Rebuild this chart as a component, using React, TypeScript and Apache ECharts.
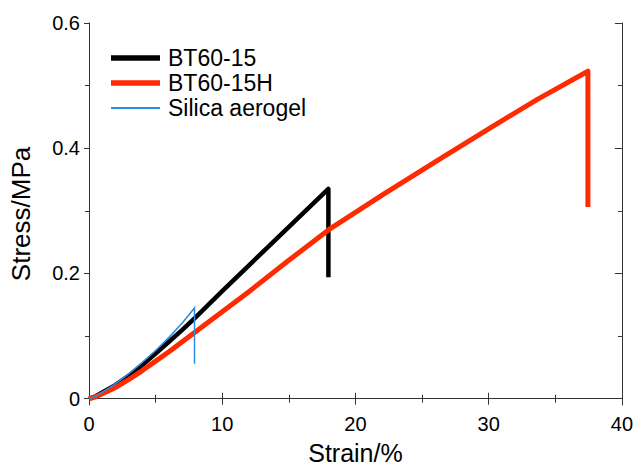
import React, { useEffect, useRef } from "react";
import * as echarts from "echarts";

const strainBT60 = [0, 0.5, 1, 2, 3, 4, 5, 6, 7, 8, 10, 17.97, 17.97];
const stressBT60 = [0, 0.004, 0.01, 0.022, 0.037, 0.054, 0.072, 0.091, 0.11, 0.13, 0.172, 0.335, 0.194];

const strainBT60H = [0, 0.5, 1, 2, 3, 4, 5, 6, 8, 10, 12, 15, 18, 22, 26.2, 30, 33.66, 37.45, 37.45];
const stressBT60H = [0, 0.003, 0.008, 0.018, 0.031, 0.045, 0.06, 0.075, 0.107, 0.139, 0.171, 0.221, 0.27, 0.325, 0.381, 0.431, 0.478, 0.523, 0.306];

const strainSilica = [0, 0.5, 1, 2, 3, 4, 5, 6, 7, 7.92, 7.92];
const stressSilica = [0, 0.004, 0.01, 0.024, 0.04, 0.058, 0.077, 0.098, 0.121, 0.145, 0.056];

const seriesNames = ["BT60-15", "BT60-15H", "Silica aerogel"];
const seriesColors = ["#000000", "#FF2A00", "#2B8CE8"];
const seriesWidths = [4.5, 5, 1.5];

const yMajorTicks = [0, 0.2, 0.4, 0.6];
const yMinorTicks = [0.1, 0.3, 0.5];

const pairs = (xs: number[], ys: number[]) => xs.map((x, i) => [x, ys[i]]);

export default function App() {
  const ref = useRef<HTMLDivElement>(null);
  useEffect(() => {
    if (!ref.current) return;
    const chart = echarts.init(ref.current, undefined, { renderer: "svg" });
    const font = "Liberation Sans, Arial, sans-serif";
    const axisLine = { show: true, lineStyle: { color: "#333", width: 1 } };
    const xCommon = {
      type: "value" as const,
      min: 0,
      max: 40,
      interval: 10,
      splitLine: { show: false },
      axisLine,
      axisTick: { show: true, inside: true, length: 6, lineStyle: { color: "#333" } },
      minorTick: { show: true, splitNumber: 2, length: 4, lineStyle: { color: "#333" } },
    };
    const yCommon = {
      type: "value" as const,
      min: -0.01,
      max: 0.6,
      splitLine: { show: false },
    };
    const legendRows = seriesNames.map((n, i) => {
      const y = 58 + i * 25;
      return [
        {
          type: "line",
          shape: { x1: 111, y1: y, x2: 160, y2: y },
          style: { stroke: seriesColors[i], lineWidth: i === 2 ? 1.8 : 5.5 },
        },
        {
          type: "text",
          x: 168,
          y: y,
          style: {
            text: n,
            fill: "#000",
            fontSize: 23,
            fontFamily: font,
            verticalAlign: "middle",
            align: "left",
          },
        },
      ];
    }).flat();

    chart.setOption({
      animation: false,
      backgroundColor: "#fff",
      textStyle: { fontFamily: font },
      grid: { left: 88, top: 23, right: 11, bottom: 61, containLabel: false },
      xAxis: [
        {
          ...xCommon,
          position: "bottom",
          axisLabel: { fontSize: 20, color: "#000", margin: 9, fontFamily: font },
          name: "Strain/%",
          nameLocation: "middle",
          nameGap: 35,
          nameTextStyle: { fontSize: 25, color: "#000", fontFamily: font },
        },
        {
          ...xCommon,
          position: "top",
          axisLabel: { show: false },
        },
      ],
      yAxis: [
        {
          ...yCommon,
          position: "left",
          axisLine,
          axisTick: { show: true, inside: false, length: 5, customValues: yMajorTicks, lineStyle: { color: "#333" } },
          axisLabel: {
            show: true,
            customValues: yMajorTicks,
            fontSize: 20,
            color: "#000",
            margin: 9,
            fontFamily: font,
            formatter: (v: number) => (Math.abs(v) < 1e-9 ? "0" : String(Math.round(v * 10) / 10)),
          },
          name: "Stress/MPa",
          nameLocation: "middle",
          nameRotate: 90,
          nameGap: 55,
          nameTextStyle: { fontSize: 26, color: "#000", fontFamily: font },
        },
        {
          ...yCommon,
          position: "left",
          axisLine: { show: false },
          axisTick: { show: true, inside: false, length: 4, customValues: yMinorTicks, lineStyle: { color: "#333" } },
          axisLabel: { show: false },
        },
        {
          ...yCommon,
          position: "right",
          axisLine,
          axisTick: { show: true, inside: true, length: 7, customValues: yMajorTicks, lineStyle: { color: "#333" } },
          axisLabel: { show: false },
        },
        {
          ...yCommon,
          position: "right",
          axisLine: { show: false },
          axisTick: { show: true, inside: true, length: 4, customValues: yMinorTicks, lineStyle: { color: "#333" } },
          axisLabel: { show: false },
        },
      ],
      series: [
        {
          name: seriesNames[0],
          type: "line",
          xAxisIndex: 0,
          yAxisIndex: 0,
          showSymbol: false,
          symbol: "none",
          data: pairs(strainBT60, stressBT60),
          lineStyle: { color: seriesColors[0], width: seriesWidths[0], join: "round" },
          itemStyle: { color: seriesColors[0] },
          z: 2,
        },
        {
          name: seriesNames[1],
          type: "line",
          xAxisIndex: 0,
          yAxisIndex: 0,
          showSymbol: false,
          symbol: "none",
          data: pairs(strainBT60H, stressBT60H),
          lineStyle: { color: seriesColors[1], width: seriesWidths[1], join: "round" },
          itemStyle: { color: seriesColors[1] },
          z: 3,
        },
        {
          name: seriesNames[2],
          type: "line",
          xAxisIndex: 0,
          yAxisIndex: 0,
          showSymbol: false,
          symbol: "none",
          data: pairs(strainSilica, stressSilica),
          lineStyle: { color: seriesColors[2], width: seriesWidths[2], join: "miter" },
          itemStyle: { color: seriesColors[2] },
          z: 4,
        },
      ],
      graphic: legendRows,
    });
    return () => chart.dispose();
  }, []);
  return (
    <div
      ref={ref}
      style={{ position: "absolute", left: 0, top: 0, width: 636, height: 470 }}
    />
  );
}
